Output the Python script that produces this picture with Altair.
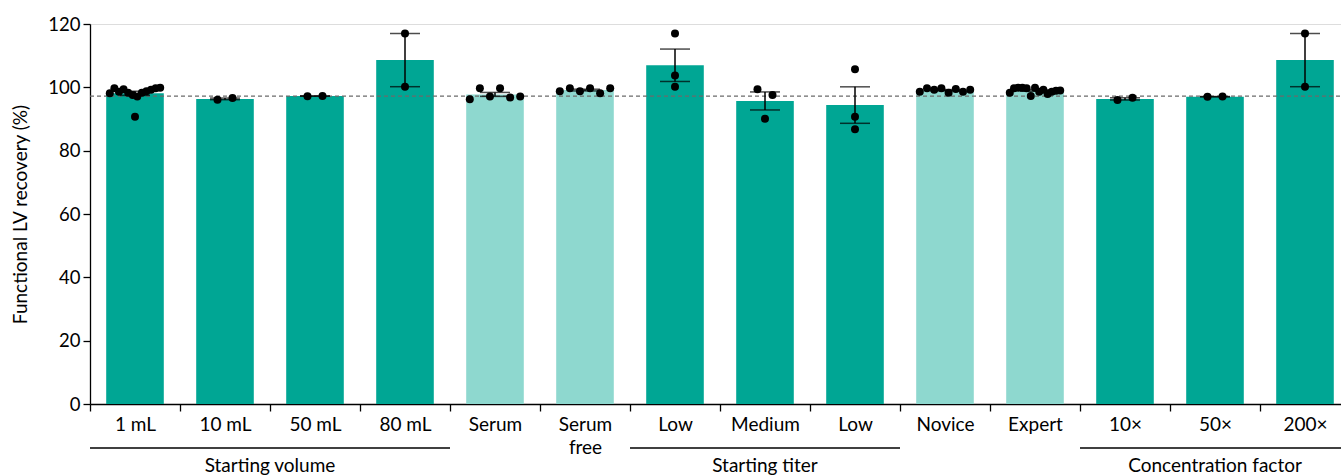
import altair as alt
import pandas as pd

# Conditions along the x axis (the second "Low" is disambiguated, shown as "Low")
categories = ["1 mL", "10 mL", "50 mL", "80 mL", "Serum", "Serum free", "Low",
              "Medium", "Low (2)", "Novice", "Expert", "10×", "50×", "200×"]
shades = ["dark", "dark", "dark", "dark", "light", "light", "dark",
          "dark", "dark", "light", "light", "dark", "dark", "dark"]

# Individual functional LV recovery measurements (%) per condition
recovery = [
    [98.1, 99.7, 98.6, 99.4, 98.3, 97.6, 97.1, 98.3, 98.8, 99.2, 99.7, 99.9, 90.7],
    [96.1, 96.6],
    [97.2, 97.3],
    [117.0, 100.2],
    [96.2, 99.7, 97.1, 99.7, 96.8, 97.1],
    [98.8, 99.7, 98.8, 99.7, 98.1, 99.7],
    [117.0, 103.7, 100.2],
    [99.4, 97.6, 90.1],
    [105.7, 90.7, 86.8],
    [98.6, 99.7, 99.2, 99.7, 98.3, 99.5, 98.6, 99.2],
    [98.3, 99.7, 99.9, 99.9, 99.7, 97.3, 99.9, 98.6, 99.2, 97.9, 98.6, 98.9, 99.0],
    [96.0, 96.7],
    [97.0, 97.1],
    [117.0, 100.2],
]

reference_level = 97.2

group_names = ["Starting volume", "Starting titer", "Concentration factor"]
group_start = [0, 6, 11]
group_end = [4, 9, 14]

Y_TITLE = "Functional LV recovery (%)"

n_cat = len(categories)
STEP = 90
RANGE = [0, STEP * n_cat]


def swarm_offsets(values, tol=3.0, half_width=0.28, max_gap=0.167):
    """Spread points lying near the group median side by side; others stay centred."""
    med = sorted(values)[len(values) // 2]
    cluster = [i for i, v in enumerate(values) if abs(v - med) <= tol]
    offs = [0.0] * len(values)
    k = len(cluster)
    if k > 1:
        gap = min(max_gap, 2 * half_width / (k - 1))
        start = -gap * (k - 1) / 2
        for j, i in enumerate(cluster):
            offs[i] = start + j * gap
    return offs


rows = []
for ci, (cat, shade, vals) in enumerate(zip(categories, shades, recovery)):
    for v, o in zip(vals, swarm_offsets(vals)):
        rows.append({"cat": cat, "shade": shade, "value": v, "pos": ci + 0.5 + o})
points = pd.DataFrame(rows)

groups = pd.DataFrame({"name": group_names, "start": group_start, "end": group_end})
groups["mid"] = (groups["start"] + groups["end"]) / 2

ref = pd.DataFrame({"y": [reference_level]})

FONT = "Lato"
band_scale = alt.Scale(domain=categories, range=RANGE, paddingInner=0, paddingOuter=0)
lin_scale = alt.Scale(domain=[0, n_cat], range=RANGE, nice=False, zero=False)
y_scale = alt.Scale(domain=[0, 120], nice=False)

label_expr = ("isValid(datum.value) ? (datum.value == 'Serum free' ? ['Serum', 'free'] : "
              "split(datum.value, ' (')[0]) : ''")

bars = alt.Chart(points).mark_bar(width=alt.RelativeBandSize(0.64)).encode(
    x=alt.X("cat:N", sort=categories, scale=band_scale,
            axis=alt.Axis(title=None, tickBand="extent", labelExpr=label_expr,
                          labelAngle=0, labelFont=FONT, labelFontSize=19,
                          labelColor="black", labelPadding=4, labelLineHeight=23,
                          tickSize=7, tickColor="black", tickWidth=1.3,
                          domainColor="black", domainWidth=1.3)),
    y=alt.Y("mean(value):Q", scale=y_scale, title=Y_TITLE,
            axis=alt.Axis(values=[0, 20, 40, 60, 80, 100, 120],
                          titleFont=FONT,
                          titleFontSize=19, titleFontWeight="normal",
                          titleColor="black", titlePadding=17,
                          labelFont=FONT, labelFontSize=18.5, labelColor="black",
                          labelPadding=3, tickSize=7, tickColor="black",
                          tickWidth=1.3, domainColor="black", domainWidth=1.3,
                          grid=False)),
    color=alt.Color("shade:N", scale=alt.Scale(domain=["dark", "light"],
                                                range=["#00A694", "#8ED8CF"]),
                    legend=None),
)

dashed = alt.Chart(ref).mark_rule(color="#6b6b6b", strokeDash=[4, 3], strokeWidth=1.2).encode(
    y=alt.Y("y:Q", scale=y_scale, title=Y_TITLE),
    x=alt.value(0),
    x2=alt.value(RANGE[1]),
)

errbars = alt.Chart(points).mark_errorbar(
    extent="stderr", color="black",
    ticks={"size": 30, "thickness": 1.5},
    rule={"strokeWidth": 1.5},
).encode(
    x=alt.X("cat:N", sort=categories, scale=band_scale, axis=None),
    y=alt.Y("value:Q", scale=y_scale, title=Y_TITLE),
)

dots = alt.Chart(points).mark_circle(size=64, color="black", opacity=1).encode(
    x=alt.X("pos:Q", scale=lin_scale, axis=None),
    y=alt.Y("value:Q", scale=y_scale, title=Y_TITLE),
)

group_lines = alt.Chart(groups).mark_rule(color="black", strokeWidth=1.3).encode(
    x=alt.X("start:Q", scale=lin_scale, axis=None),
    x2="end:Q",
    y=alt.value(424),
)

group_text = alt.Chart(groups).mark_text(font=FONT, fontSize=19, color="black",
                                         baseline="top").encode(
    x=alt.X("mid:Q", scale=lin_scale, axis=None),
    y=alt.value(433),
    text="name:N",
)

chart = alt.layer(bars, dashed, errbars, dots, group_lines, group_text).resolve_scale(
    x="independent"
).properties(
    width=1251,
    height=380,
    autosize=alt.AutoSizeParams(type="none"),
    padding={"left": 90, "top": 24, "right": 0, "bottom": 71},
).configure_view(stroke=None).configure(font=FONT)

chart.save("out.html", embed_options={"renderer": "svg", "actions": False})
